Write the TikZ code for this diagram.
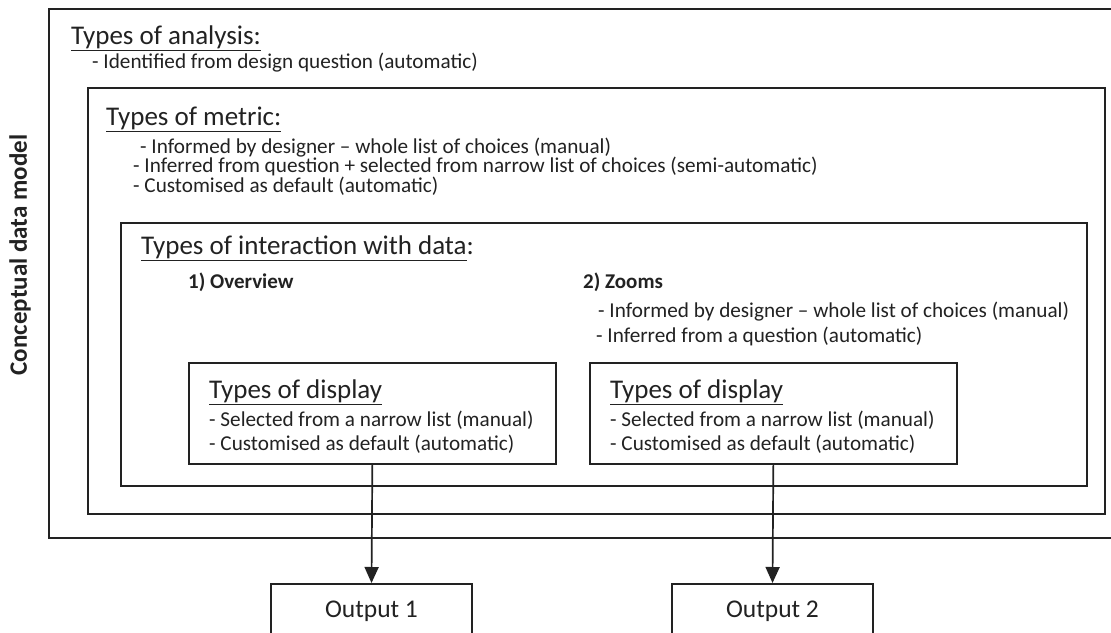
\documentclass[tikz,border=0pt]{standalone}
\usepackage{fontspec}
\setmainfont{Carlito}
\usetikzlibrary{arrows.meta}
\definecolor{ink}{HTML}{222222}
\tikzset{
  frame/.style={draw=ink, line width=1.7pt},
  box/.style={frame, rectangle, inner sep=0pt, anchor=north west},
  txt/.style={anchor=base west, inner sep=0pt, text=ink, font=\fontsize{21.2}{24}\selectfont},
  head/.style={txt, font=\fontsize{27}{30}\selectfont},
  sub/.style={txt, font=\fontsize{21}{24}\selectfont\bfseries},
  side/.style={inner sep=0pt, text=ink, rotate=90, font=\fontsize{25}{30}\selectfont\bfseries},
  flow/.style={draw=ink, line width=1.7pt, -{Triangle[width=14pt,length=16pt]}},
}
\begin{document}
\begin{tikzpicture}[x=1pt, y=-1pt]
\useasboundingbox (0,0) rectangle (1111,632);
\clip (0,0) rectangle (1111,632);
\fill[white] (0,0) rectangle (1111,632);

% nested frames of the data model
\draw[frame] (49,9) rectangle (1130,538);
\draw[frame] (88,88) rectangle (1105,514);
\draw[frame] (121,223) rectangle (1087,486);

% side label
\node[side] (cdm) at (20,255) {Conceptual data model};

% analysis level
\node[head] (ana) at (71,44) {\underline{Types of analysis:}};
\node[txt] (ana1) at (92,68) {- Identified from design question (automatic)};

% metric level
\node[head] (met) at (106,125) {\underline{Types of metric:}};
\node[txt] (met1) at (140,153) {- Informed by designer -- whole list of choices (manual)};
\node[txt] (met2) at (133,172.5) {- Inferred from question + selected from narrow list of choices (semi-automatic)};
\node[txt] (met3) at (133,192) {- Customised as default (automatic)};

% interaction level
\node[head] (int) at (141,254) {\underline{Types of interaction with data}:};
\node[sub] (ov) at (188,288) {1) Overview};
\node[sub] (zm) at (583,288) {2) Zooms};
\node[txt] (zm1) at (598,317) {- Informed by designer -- whole list of choices (manual)};
\node[txt] (zm2) at (596,342) {- Inferred from a question (automatic)};

% display boxes
\node[box, minimum width=367pt, minimum height=101pt] (disp1) at (188,362) {};
\node[box, minimum width=367pt, minimum height=101pt] (disp2) at (589,362) {};
\node[head] (d1h) at (209,398) {\underline{Types of display}};
\node[txt] (d1a) at (209,426) {- Selected from a narrow list (manual)};
\node[txt] (d1b) at (209,450) {- Customised as default (automatic)};
\node[head] (d2h) at (610,398) {\underline{Types of display}};
\node[txt] (d2a) at (610,426) {- Selected from a narrow list (manual)};
\node[txt] (d2b) at (610,450) {- Customised as default (automatic)};

% outputs
\node[frame, rectangle, inner sep=0pt, minimum width=201pt, minimum height=70pt, anchor=north] (out1) at (371.5,583) {};
\node[frame, rectangle, inner sep=0pt, minimum width=201pt, minimum height=70pt, anchor=north] (out2) at (772.5,583) {};
\node[txt, anchor=base, font=\fontsize{25.5}{30}\selectfont] (o1t) at (371.5,617) {Output 1};
\node[txt, anchor=base, font=\fontsize{25.5}{30}\selectfont] (o2t) at (772.5,617) {Output 2};

% connectors
\draw[flow] (disp1.south) -- (out1.north);
\draw[flow] (disp2.south) -- (out2.north);
\end{tikzpicture}
\end{document}
